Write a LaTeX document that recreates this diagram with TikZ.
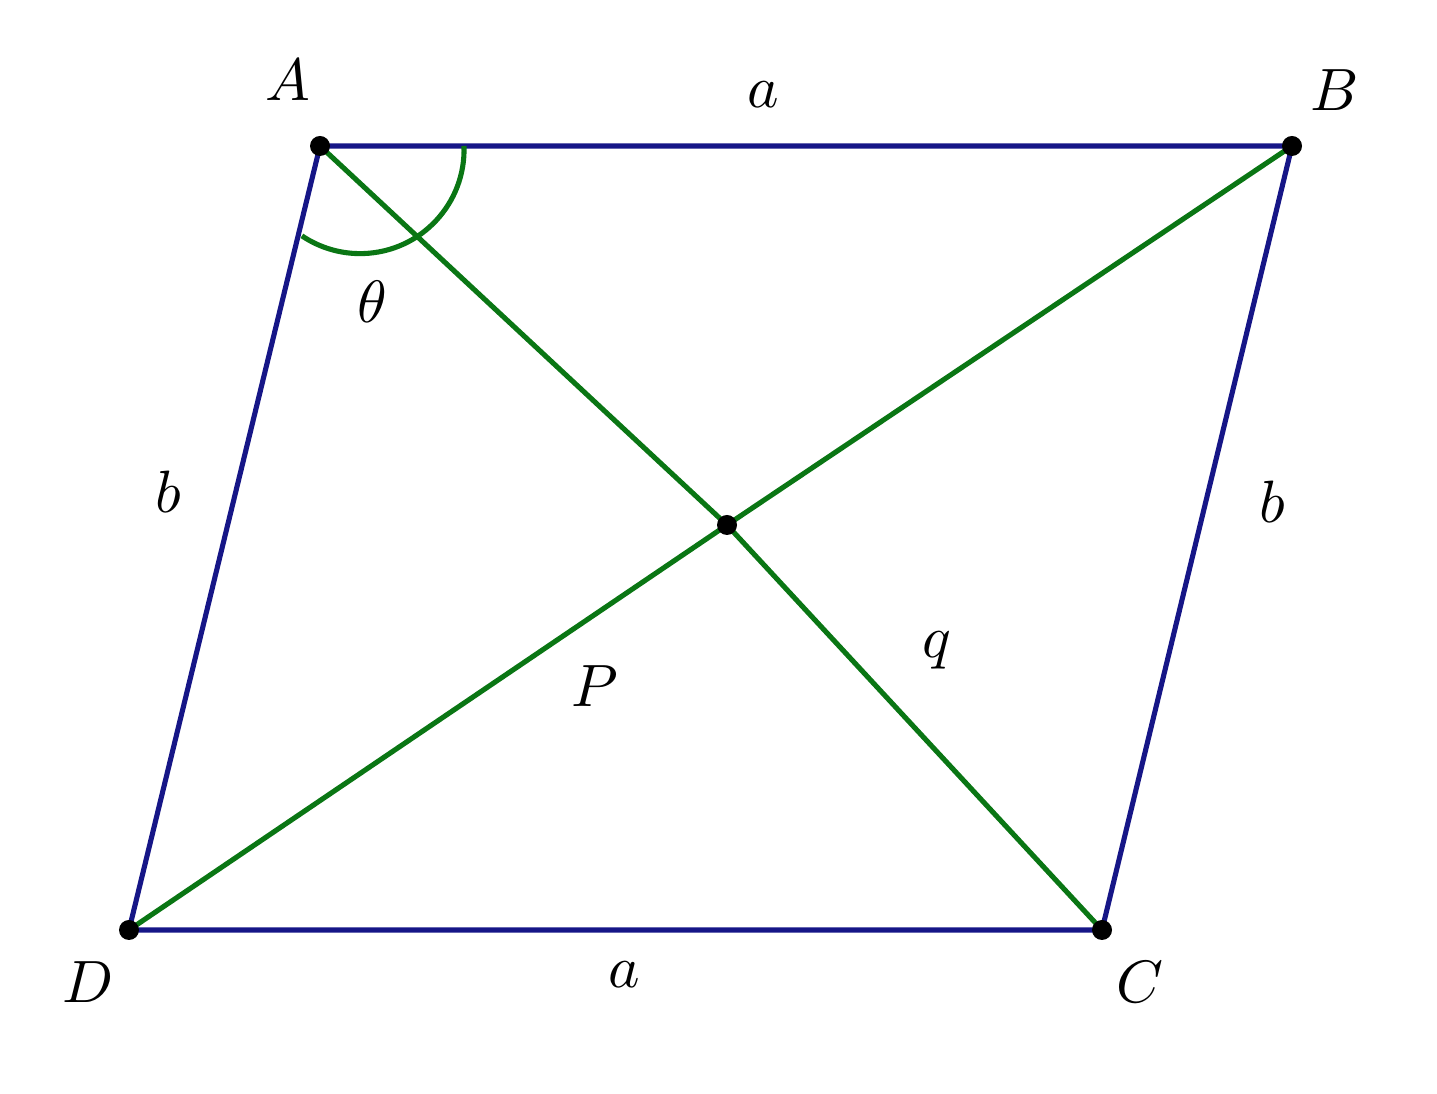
\documentclass[tikz,border=0pt]{standalone}
\usepackage{tikz}
\usetikzlibrary{arrows.meta}

\definecolor{sideblue}{RGB}{22,22,135}
\definecolor{diaggreen}{RGB}{10,118,20}

\begin{document}
\begin{tikzpicture}[line width=1.45pt, lbl/.style={scale=1.7}]

  \useasboundingbox (0,0) rectangle (14.37,10.94);

  \draw (3.20,9.48) node[name=A, inner sep=0pt] {};
  \draw (12.92,9.48) node[name=B, inner sep=0pt] {};
  \draw (11.02,1.64) node[name=C, inner sep=0pt] {};
  \draw (1.29,1.64) node[name=D, inner sep=0pt] {};
  \draw (7.27,5.69) node[name=O, inner sep=0pt] {};

  \draw [sideblue] (A) -- (B) -- (C) -- (D) -- (A);
  \draw [diaggreen] (A) -- (O) -- (C);
  \draw [diaggreen] (B) -- (O) -- (D);

  % angle at A
  \draw [diaggreen] (4.64,9.48) arc [start angle=2, end angle=-124, radius=1.04];

  \fill (A) circle [radius=0.1];
  \fill (B) circle [radius=0.1];
  \fill (C) circle [radius=0.1];
  \fill (D) circle [radius=0.1];
  \fill (O) circle [radius=0.1];

  \draw (2.88,10.14) node[lbl, name=lA] {$A$};
  \draw (13.35,10.04) node[lbl, name=lB] {$B$};
  \draw (11.40,1.12) node[lbl, name=lC] {$C$};
  \draw (0.88,1.12) node[lbl, name=lD] {$D$};

  \draw (7.63,9.99) node[lbl, name=la1] {$a$};
  \draw (6.24,1.19) node[lbl, name=la2] {$a$};
  \draw (1.68,6.02) node[lbl, name=lb1] {$b$};
  \draw (12.72,5.92) node[lbl, name=lb2] {$b$};
  \draw (3.72,7.92) node[lbl, name=ltheta] {$\theta$};
  \draw (5.95,4.08) node[lbl, name=lP] {$P$};
  \draw (9.37,4.44) node[lbl, name=lq] {$q$};

\end{tikzpicture}
\end{document}
